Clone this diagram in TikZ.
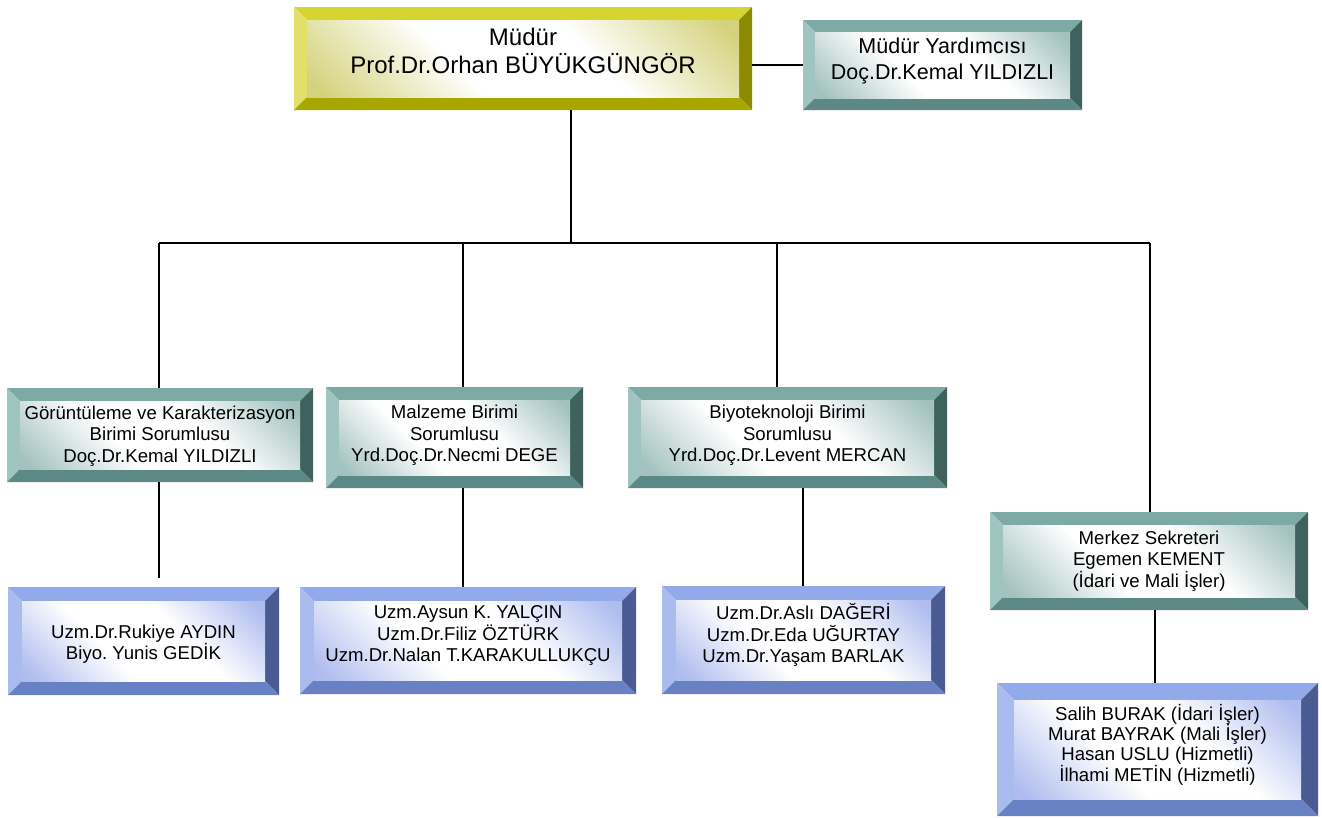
\documentclass[tikz,border=0pt]{standalone}
\usepackage{fontspec}
\setmainfont{Liberation Sans}
\frenchspacing
\definecolor{ytop}{HTML}{D6D433}
\definecolor{yleft}{HTML}{E2E06A}
\definecolor{yright}{HTML}{8B8A00}
\definecolor{ybot}{HTML}{A8A600}
\definecolor{yface}{HTML}{D4D27C}
\definecolor{ttop}{HTML}{7EAAA6}
\definecolor{tleft}{HTML}{A0C4C0}
\definecolor{tright}{HTML}{40625F}
\definecolor{tbot}{HTML}{5C8985}
\definecolor{tface}{HTML}{A3C2BF}
\definecolor{btop}{HTML}{93AAEA}
\definecolor{bleft}{HTML}{AABBF0}
\definecolor{bright}{HTML}{4A5B94}
\definecolor{bbot}{HTML}{6880C4}
\definecolor{bface}{HTML}{AEBCEF}
\pgfdeclareverticalshading{yshade}{100bp}{color(0bp)=(yface); color(17bp)=(yface); color(40bp)=(white); color(60bp)=(white); color(83bp)=(yface); color(100bp)=(yface)}
\pgfdeclareverticalshading{tshade}{100bp}{color(0bp)=(tface); color(17bp)=(tface); color(40bp)=(white); color(60bp)=(white); color(83bp)=(tface); color(100bp)=(tface)}
\pgfdeclareverticalshading{bshade}{100bp}{color(0bp)=(bface); color(17bp)=(bface); color(40bp)=(white); color(60bp)=(white); color(83bp)=(bface); color(100bp)=(bface)}
\newcommand{\bevbox}[7]{%
  \fill[#7top] (#2,#3) -- (#4,#3) -- (#4-#6,#3+#6) -- (#2+#6,#3+#6) -- cycle;
  \fill[#7left] (#2,#3) -- (#2+#6,#3+#6) -- (#2+#6,#5-#6) -- (#2,#5) -- cycle;
  \fill[#7right] (#4,#3) -- (#4,#5) -- (#4-#6,#5-#6) -- (#4-#6,#3+#6) -- cycle;
  \fill[#7bot] (#2,#5) -- (#4,#5) -- (#4-#6,#5-#6) -- (#2+#6,#5-#6) -- cycle;
  \shade[shading=#7shade, shading angle=-45]
    (#2+#6,#3+#6) rectangle (#4-#6,#5-#6);
  \node[draw=none, inner sep=0pt, minimum width={(#4-#2)*1pt}, minimum height={(#5-#3)*1pt}]
    (#1) at ({(#2+#4)/2},{(#3+#5)/2}) {};
}
\tikzset{
  lbl/.style={align=center, inner sep=0pt, font=\fontsize{18.6}{21.5}\selectfont},
  conn/.style={draw=black, line width=1.8pt},
}
\begin{document}
\begin{tikzpicture}[x=1pt,y=-1pt]
\useasboundingbox (0,0) rectangle (1322,817);
\bevbox{mud}{294}{7}{752}{110}{13}{y}
\bevbox{yard}{803}{20}{1082}{110}{12}{t}
\bevbox{gor}{7}{388}{313}{482}{13}{t}
\bevbox{mal}{326}{387}{583}{488}{13}{t}
\bevbox{biyo}{628}{387}{947}{488}{13}{t}
\bevbox{mer}{990}{512}{1308}{610}{13}{t}
\bevbox{ruk}{8}{587}{279}{695}{14}{b}
\bevbox{ays}{300}{587}{636}{694}{14}{b}
\bevbox{asl}{662}{586}{945}{694}{14}{b}
\bevbox{sal}{997}{683}{1318}{816}{17}{b}

\node[lbl, font=\fontsize{24}{28}\selectfont] (mudt) at ([yshift=8pt]mud.center) {Müdür\\Prof.Dr.Orhan BÜYÜKGÜNGÖR};
\node[lbl, font=\fontsize{21.5}{26}\selectfont] (yardt) at ([yshift=4pt]yard.center) {Müdür Yardımcısı\\Doç.Dr.Kemal YILDIZLI};
\node[lbl] (gort) at ([yshift=-1pt]gor.center) {Görüntüleme ve Karakterizasyon\\Birimi Sorumlusu\\Doç.Dr.Kemal YILDIZLI};
\node[lbl] (malt) at ([yshift=2pt]mal.center) {Malzeme Birimi\\Sorumlusu\\Yrd.Doç.Dr.Necmi DEGE};
\node[lbl] (biyot) at ([yshift=2pt]biyo.center) {Biyoteknoloji Birimi\\Sorumlusu\\Yrd.Doç.Dr.Levent MERCAN};
\node[lbl] (mert) at (mer.center) {Merkez Sekreteri\\Egemen KEMENT\\(İdari ve Mali İşler)};
\node[lbl] (rukt) at ([yshift=-3pt]ruk.center) {Uzm.Dr.Rukiye AYDIN\\Biyo. Yunis GEDİK};
\node[lbl] (ayst) at ([yshift=5pt]ays.center) {Uzm.Aysun K. YALÇIN\\Uzm.Dr.Filiz ÖZTÜRK\\Uzm.Dr.Nalan T.KARAKULLUKÇU};
\node[lbl] (aslt) at ([yshift=5pt]asl.center) {Uzm.Dr.Aslı DAĞERİ\\Uzm.Dr.Eda UĞURTAY\\Uzm.Dr.Yaşam BARLAK};
\node[lbl, font=\fontsize{18.6}{20.3}\selectfont] (salt) at ([yshift=5pt]sal.center) {Salih BURAK (İdari İşler)\\Murat BAYRAK (Mali İşler)\\Hasan USLU (Hizmetli)\\İlhami METİN (Hizmetli)};

\coordinate (trunk) at (571,243);
\coordinate (b1) at (159,243);
\coordinate (b2) at (463,243);
\coordinate (b3) at (777,243);
\coordinate (b4) at (1150,243);
\coordinate (rukend) at (159,578);
\coordinate (m2) at (463,488);
\coordinate (m3) at (803,488);
\coordinate (m4) at (1155,610);

\draw[conn] (yard.west -| mud.east) -- (yard.west);
\draw[conn] (mud.south -| trunk) -- (trunk);
\draw[conn] (b1) -- (b4);
\draw[conn] (b1) -- (b1 |- gor.north);
\draw[conn] (b2) -- (b2 |- mal.north);
\draw[conn] (b3) -- (b3 |- biyo.north);
\draw[conn] (b4) -- (b4 |- mer.north);
\draw[conn] (b1 |- gor.south) -- (rukend);
\draw[conn] (m2) -- (m2 |- ays.north);
\draw[conn] (m3) -- (m3 |- asl.north);
\draw[conn] (m4) -- (m4 |- sal.north);
\end{tikzpicture}
\end{document}
